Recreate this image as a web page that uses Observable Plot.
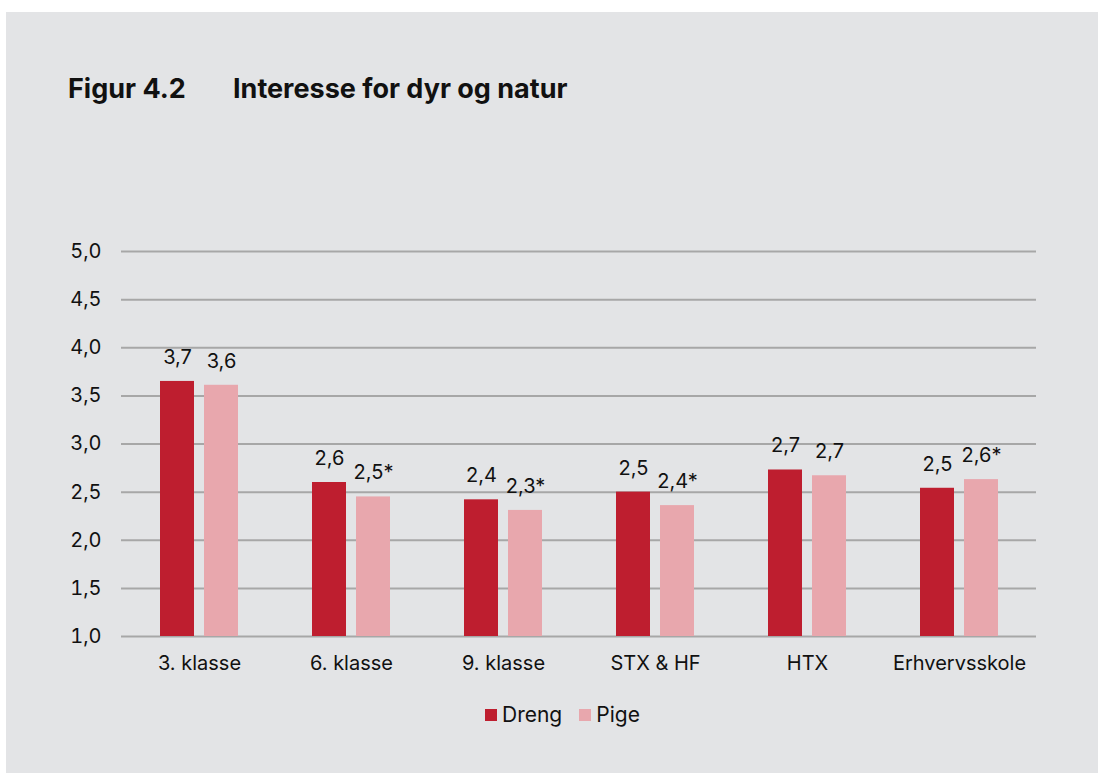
<!DOCTYPE html>
<html>
<head>
<meta charset="utf-8">
<script src="https://cdn.jsdelivr.net/npm/d3@7"></script>
<script src="https://cdn.jsdelivr.net/npm/@observablehq/plot@0.6"></script>
<style>
  html, body { margin: 0; padding: 0; background: #ffffff; }
  body { width: 1098px; height: 773px; position: relative; overflow: hidden; font-family: Inter, "Noto Sans", sans-serif; color: #111; }
  #card { position: absolute; left: 6px; top: 12px; width: 1092px; height: 761px; background: #e3e4e6; }
  #title { position: absolute; left: 62px; top: 62px; font-size: 27px; font-weight: 700; line-height: 30px; white-space: nowrap; color: #111; }
  #title .num { display: inline-block; width: 165px; }
  #chart { position: absolute; left: 0; top: 188px; }
  #legend { position: absolute; left: 479px; top: 690px; font-size: 21px; line-height: 26px; display: flex; align-items: center; white-space: nowrap; color: #111; }
  #legend .sw { display: inline-block; width: 12px; height: 12px; margin-right: 5px; }
  #legend .item { display: flex; align-items: center; margin-right: 17px; }
</style>
</head>
<body>
<div id="card">
  <div id="title"><span class="num">Figur 4.2</span><span>Interesse for dyr og natur</span></div>
  <div id="chart"></div>
  <div id="legend"></div>
</div>
<script>
const categories = ["3. klasse", "6. klasse", "9. klasse", "STX & HF", "HTX", "Erhvervsskole"];
const series = ["Dreng", "Pige"];
const colors = ["#be1e2f", "#e8a7ad"];
const dreng = [3.65, 2.60, 2.42, 2.50, 2.73, 2.54];
const pige = [3.61, 2.45, 2.31, 2.36, 2.67, 2.63];
const drengLabels = ["3,7", "2,6", "2,4", "2,5", "2,7", "2,5"];
const pigeLabels = ["3,6", "2,5*", "2,3*", "2,4*", "2,7", "2,6*"];
const yTicks = [1.0, 1.5, 2.0, 2.5, 3.0, 3.5, 4.0, 4.5, 5.0];

const dataDreng = categories.map((c, i) => ({cat: c, sex: series[0], value: dreng[i], label: drengLabels[i]}));
const dataPige = categories.map((c, i) => ({cat: c, sex: series[1], value: pige[i], label: pigeLabels[i]}));

const fmt = d => d.toFixed(1).replace(".", ",");
const off = 22;

const chart = Plot.plot({
  width: 1092,
  height: 486,
  marginLeft: 115,
  marginRight: 62,
  marginTop: 51,
  marginBottom: 50,
  style: { background: "transparent", fontFamily: "Inter, 'Noto Sans', sans-serif", fontSize: "20px", color: "#111" },
  x: { domain: categories, paddingInner: 0.777, paddingOuter: 0.3885, label: null },
  y: { domain: [1, 5], label: null },
  color: { domain: series, range: colors },
  marks: [
    Plot.ruleY(yTicks, { y: d => d, stroke: "#a7a7a7", strokeWidth: 2 }),
    Plot.axisY({ ticks: yTicks, tickFormat: fmt, tickSize: 0, tickPadding: 20, label: null, fontSize: 20, fill: "#111" }),
    Plot.axisX({ tickSize: 0, tickPadding: 19, label: null, fontSize: 20, fill: "#111" }),
    Plot.barY(dataDreng, { x: "cat", y1: 1, y2: "value", fill: "sex", dx: -off }),
    Plot.barY(dataPige, { x: "cat", y1: 1, y2: "value", fill: "sex", dx: off }),
    Plot.text(dataDreng, { x: "cat", y: "value", text: "label", dx: -off, dy: -24, lineAnchor: "middle", fontSize: 20, fill: "#111" }),
    Plot.text(dataPige, { x: "cat", y: "value", text: "label", dx: off, dy: -24, lineAnchor: "middle", fontSize: 20, fill: "#111" })
  ]
});
document.getElementById("chart").appendChild(chart);

const legend = document.getElementById("legend");
series.forEach((s, i) => {
  const item = document.createElement("span");
  item.className = "item";
  const sw = document.createElement("span");
  sw.className = "sw";
  sw.style.background = colors[i];
  item.appendChild(sw);
  item.appendChild(document.createTextNode(s));
  legend.appendChild(item);
});
</script>
</body>
</html>
